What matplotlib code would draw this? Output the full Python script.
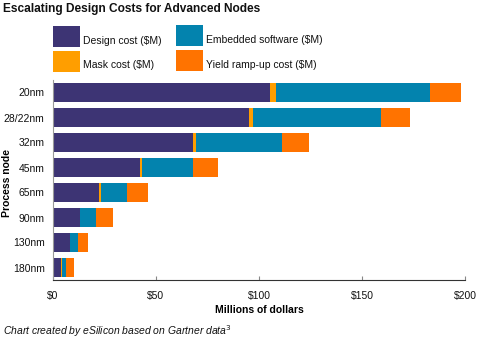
import matplotlib
matplotlib.use("Agg")
import matplotlib.pyplot as plt
from matplotlib.patches import Rectangle
import numpy as np

plt.rcParams['font.family'] = ['Liberation Sans', 'DejaVu Sans']

nodes = ["20nm", "28/22nm", "32nm", "45nm", "65nm", "90nm", "130nm", "180nm"]
design = [105.2, 95.0, 67.8, 42.1, 22.2, 13.0, 8.1, 3.7]
mask = [2.9, 2.0, 1.5, 0.9, 1.0, 0.3, 0.2, 0.6]
embedded = [74.7, 62.1, 41.7, 24.8, 12.6, 7.4, 3.7, 1.9]
yield_ramp = [15.1, 14.1, 13.1, 12.1, 10.2, 8.3, 4.8, 3.8]
xticks = [0, 50, 100, 150, 200]
xticklabels = ["$0", "$50", "$100", "$150", "$200"]

series = [
    ("Design cost ($M)", design, "#3D3474"),
    ("Mask cost ($M)", mask, "#FF9E00"),
    ("Embedded software ($M)", embedded, "#0383AE"),
    ("Yield ramp-up cost ($M)", yield_ramp, "#FF7300"),
]

W, H = 482, 343
fig = plt.figure(figsize=(W/100, H/100), dpi=100)
ax = fig.add_axes([53/W, 1-280/H, (465-53)/W, 200/H])

y = np.arange(len(nodes))
left = np.zeros(len(nodes))
for label, vals, color in series:
    ax.barh(y, vals, left=left, height=0.76, color=color, linewidth=0)
    left += np.array(vals)

ax.set_ylim(len(nodes) - 0.5, -0.5)
ax.set_xlim(0, 200)
ax.set_yticks(y)
ax.set_yticklabels(nodes, fontsize=7.5, color="#111111")
ax.set_xticks(xticks)
ax.set_xticklabels(xticklabels, fontsize=7.5, color="#111111")
ax.tick_params(axis='y', length=0, pad=6)
ax.tick_params(axis='x', direction='in', length=3, color="#888888", pad=8)
for s in ['top', 'right']:
    ax.spines[s].set_visible(False)
ax.spines['left'].set_color("#999999")
ax.spines['bottom'].set_color("#333333")

ax.set_xlabel("Millions of dollars", fontsize=7.5, fontweight='bold', labelpad=3)
ax.set_ylabel("Process node", fontsize=7.5, fontweight='bold')
ax.yaxis.set_label_coords(-0.100, 0.485)

fig.text(3/W, 1-9/H, "Escalating Design Costs for Advanced Nodes",
         fontsize=8.6, fontweight='bold', va='center', ha='left', color="#111111")
fig.text(3/W, 1-331/H, "Chart created by eSilicon based on Gartner data$^3$",
         fontsize=7.5, style='italic', va='center', ha='left', color="#111111")

# legend: columns (Design, Mask) and (Embedded, Yield)
leg_x = [53, 53, 176, 176]
leg_y = [25.5, 50.5, 25, 50]
pw, ph = 27, 21
for (label, vals, color), lx, ly in zip(series, leg_x, leg_y):
    fig.add_artist(Rectangle((lx/W, 1-(ly+ph)/H), pw/W, ph/H,
                             transform=fig.transFigure, color=color, linewidth=0))
    fig.text((lx+pw+3)/W, 1-(ly+ph/2+4.5)/H, label, fontsize=7.5,
             va='center', ha='left', color="#111111")

fig.savefig("out.png", dpi=100)
